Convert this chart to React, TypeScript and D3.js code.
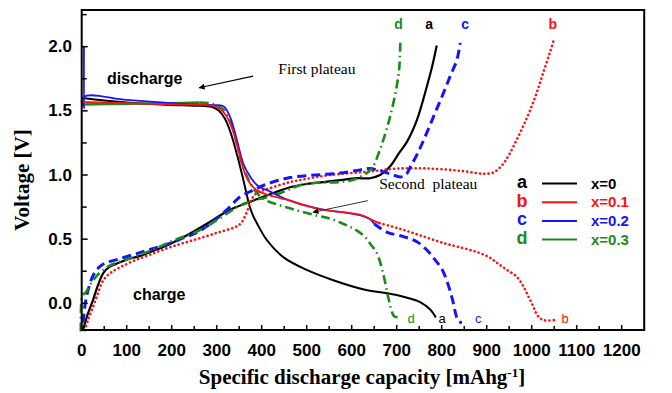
import React from "react";
import * as d3 from "d3";

// Capacity (mAh/g) and voltage (V) pairs for each electrode, x = 0 … 0.3
const aDischarge: [number, number][] = [
  [0, 1.6], [50, 1.58], [100, 1.565], [150, 1.555], [200, 1.545], [250, 1.54], [290, 1.53],
  [305, 1.5], [318, 1.44], [328, 1.36], [338, 1.25], [348, 1.12], [358, 0.98], [366, 0.86],
  [372, 0.77], [380, 0.69], [390, 0.62], [412, 0.49], [448, 0.36], [500, 0.26], [559, 0.18],
  [625, 0.11], [700, 0.065], [752, 0.01], [775, -0.05], [787, -0.11],
];
const aCharge: [number, number][] = [
  [3, -0.21], [12, -0.1], [25, 0.025], [36, 0.14], [48, 0.235], [60, 0.28], [78, 0.31],
  [100, 0.34], [130, 0.37], [160, 0.41], [189, 0.45], [234, 0.53], [278, 0.62], [310, 0.69],
  [337, 0.74], [381, 0.8], [426, 0.86], [463, 0.905], [500, 0.93], [537, 0.945], [575, 0.96],
  [611, 0.975], [641, 0.975], [663, 1.0], [686, 1.07], [705, 1.17], [723, 1.26], [745, 1.43],
  [767, 1.69], [779, 1.85], [789, 2.01],
];

const bDischargeHead: [number, number][] = [
  [-2, 1.57], [100, 1.56], [200, 1.55], [280, 1.545], [300, 1.53], [315, 1.49], [328, 1.42],
  [340, 1.3], [350, 1.17], [362, 1.02], [375, 0.93], [390, 0.88], [410, 0.85], [440, 0.82],
  [463, 0.8], [500, 0.76], [536, 0.73], [580, 0.71], [620, 0.69], [648, 0.645], [662, 0.625],
];
const bDischargeTail: [number, number][] = [
  [662, 0.625], [708, 0.58], [752, 0.53], [804, 0.47], [848, 0.43], [878, 0.4], [905, 0.36],
  [925, 0.31], [945, 0.26], [966, 0.21], [982, 0.13], [993, 0.05], [1003, -0.02],
  [1012, -0.09], [1025, -0.13], [1052, -0.13],
];
const bCharge: [number, number][] = [
  [7, -0.21], [15, -0.12], [25, -0.03], [36, 0.08], [48, 0.18], [65, 0.24], [85, 0.28],
  [115, 0.33], [152, 0.38], [190, 0.43], [226, 0.47], [265, 0.51], [301, 0.55], [330, 0.58],
  [345, 0.6], [355, 0.63], [363, 0.68], [370, 0.74], [376, 0.8], [389, 0.86], [412, 0.89],
  [463, 0.945], [500, 0.97], [552, 1.0], [648, 1.03], [700, 1.05], [774, 1.05], [848, 1.03],
  [892, 1.01], [915, 1.02], [935, 1.08], [950, 1.16], [966, 1.27], [981, 1.38], [996, 1.5],
  [1011, 1.64], [1025, 1.79], [1040, 1.95], [1048, 2.04],
];

const cDischargeHead: [number, number][] = [
  [5, 2.0], [5, 1.52], [6, 1.61], [100, 1.585], [200, 1.56], [250, 1.55], [292, 1.545],
  [315, 1.535], [330, 1.45], [345, 1.27], [359, 1.09], [374, 0.99], [390, 0.92], [419, 0.87],
  [463, 0.8], [536, 0.73], [580, 0.71], [620, 0.685], [641, 0.655], [650, 0.62],
];
const cDischargeTail: [number, number][] = [
  [650, 0.62], [678, 0.555], [715, 0.52], [745, 0.48], [767, 0.415], [785, 0.34], [800, 0.27],
  [812, 0.17], [820, 0.08], [826, 0.0], [831, -0.08], [837, -0.14], [845, -0.15],
];
const cCharge: [number, number][] = [
  [3, -0.15], [8, 0.0], [14, 0.1], [22, 0.19], [33, 0.26], [50, 0.31], [78, 0.34],
  [115, 0.38], [152, 0.42], [190, 0.46], [226, 0.51], [255, 0.55], [278, 0.6], [300, 0.66],
  [323, 0.73], [352, 0.83], [380, 0.88], [412, 0.93], [463, 0.98], [520, 1.0], [574, 1.015],
  [619, 1.04], [641, 1.05], [665, 1.03], [685, 1.01], [708, 0.985], [720, 1.0], [730, 1.06],
  [748, 1.18], [767, 1.33], [786, 1.49], [804, 1.64], [820, 1.78], [834, 1.9], [841, 2.03],
];

const dDischargeHead: [number, number][] = [
  [0, 1.55], [100, 1.555], [200, 1.56], [262, 1.565],
];
const dDischargeTail: [number, number][] = [
  [262, 1.565], [285, 1.56], [300, 1.54], [315, 1.51], [326, 1.44], [337, 1.35], [352, 1.14],
  [367, 0.99], [389, 0.86], [411, 0.8], [435, 0.77], [463, 0.74], [515, 0.69], [552, 0.66],
  [581, 0.62], [605, 0.58], [626, 0.53], [642, 0.46], [656, 0.39], [670, 0.23], [681, 0.05],
  [688, -0.05], [694, -0.1], [708, -0.11],
];
const dCharge: [number, number][] = [
  [-2, -0.22], [-1, 0.0], [2, 0.06], [10, 0.09], [20, 0.15], [35, 0.22], [60, 0.29],
  [115, 0.36], [160, 0.42], [204, 0.49], [263, 0.57], [323, 0.7], [350, 0.76], [381, 0.8],
  [426, 0.84], [463, 0.89], [485, 0.92], [522, 0.94], [574, 0.945], [600, 0.96], [619, 0.985],
  [635, 1.02], [648, 1.07], [660, 1.17], [670, 1.27], [685, 1.45], [700, 1.69], [706, 1.85],
  [708, 2.03],
];

// Legend and curve-end letters
const seriesKeys = ["a", "b", "c", "d"];
const seriesLabels = ["x=0", "x=0.1", "x=0.2", "x=0.3"];
const topLetterCapacity = [772, 1047, 852, 704];
const bottomLetterCapacity = [801, 1074, 881, 732];

// Axis ticks
const capacityTicks = d3.range(0, 1201, 100);
const capacityMinorTicks = d3.range(50, 1250, 100);
const voltageTicks = [0, 0.5, 1.0, 1.5, 2.0];
const voltageMinorTicks = [0.25, 0.75, 1.25, 1.75, 2.25];

const COLORS = ["#000000", "#ff1010", "#1414ff", "#1a8a1a"];
const SANS = "'Liberation Sans', Arial, sans-serif";
const SERIF = "'Liberation Serif', 'Times New Roman', serif";

const W = 672;
const H = 393;

export default function App() {
  const x = d3.scaleLinear().domain([0, 1250]).range([81.7, 644.2]);
  const y = d3.scaleLinear().domain([-0.208, 2.286]).range([330, 10]);
  const line = d3
    .line<[number, number]>()
    .x((d) => x(d[0]))
    .y((d) => y(d[1]))
    .curve(d3.curveCatmullRom.alpha(0.5));

  const solid = { dash: undefined as string | undefined, cap: "butt" };
  const styles = {
    solid,
    dotted: { dash: "0.1 4.2", cap: "round" },
    dashed: { dash: "9 5", cap: "butt" },
    dashdot: { dash: "9 4 1.5 4", cap: "butt" },
  };

  const curves = [
    { pts: aDischarge, color: COLORS[0], st: styles.solid, w: 2 },
    { pts: aCharge, color: COLORS[0], st: styles.solid, w: 2.2 },
    { pts: bCharge, color: COLORS[1], st: styles.dotted, w: 2.6 },
    { pts: cCharge, color: COLORS[2], st: styles.dashed, w: 3 },
    { pts: dCharge, color: COLORS[3], st: styles.dashdot, w: 2.6 },
    { pts: dDischargeHead, color: COLORS[3], st: styles.solid, w: 2.4 },
    { pts: dDischargeTail, color: COLORS[3], st: styles.dashdot, w: 2.6 },
    { pts: cDischargeHead, color: COLORS[2], st: styles.solid, w: 1.8 },
    { pts: cDischargeTail, color: COLORS[2], st: styles.dashed, w: 3 },
    { pts: bDischargeHead, color: COLORS[1], st: styles.solid, w: 1.8 },
    { pts: bDischargeTail, color: COLORS[1], st: styles.dotted, w: 2.6 },
  ];

  const x0 = x.range()[0];
  const x1 = x.range()[1];
  const yBottom = y.range()[0];
  const yTop = y.range()[1];

  const legendX = 522;
  const legendY0 = 182;
  const legendStep = 18.7;

  return (
    <svg
      width={W}
      height={H}
      viewBox={`0 0 ${W} ${H}`}
      style={{ position: "absolute", left: 0, top: 0, background: "#fff" }}
    >
      <defs>
        <marker id="arrowHead" viewBox="0 0 10 10" refX="9" refY="5" markerWidth="7" markerHeight="6" orient="auto-start-reverse" markerUnits="userSpaceOnUse">
          <path d="M0,0 L10,5 L0,10 z" fill="#000" />
        </marker>
      </defs>

      {/* curves */}
      <g fill="none">
        {curves.map((c, i) => (
          <path
            key={i}
            d={line(c.pts) ?? ""}
            stroke={c.color}
            strokeWidth={c.w}
            strokeDasharray={c.st.dash}
            strokeLinecap={c.st.cap as any}
            strokeLinejoin="round"
          />
        ))}
      </g>

      {/* frame */}
      <rect x={x0} y={yTop} width={x1 - x0} height={yBottom - yTop} fill="none" stroke="#000" strokeWidth={2} />

      {/* x ticks */}
      <g stroke="#000" strokeWidth={1.5}>
        {capacityTicks.map((t) => (
          <line key={"xm" + t} x1={x(t)} x2={x(t)} y1={yBottom} y2={yBottom - 5} />
        ))}
        {capacityMinorTicks.map((t) => (
          <line key={"xn" + t} x1={x(t)} x2={x(t)} y1={yBottom} y2={yBottom - 4} />
        ))}
        {voltageTicks.map((t) => (
          <line key={"ym" + t} x1={x0} x2={x0 + 6} y1={y(t)} y2={y(t)} />
        ))}
        {voltageMinorTicks.map((t) => (
          <line key={"yn" + t} x1={x0} x2={x0 + 5} y1={y(t)} y2={y(t)} />
        ))}
      </g>

      {/* tick labels */}
      <g fontFamily={SANS} fontWeight="bold" fontSize={17} fill="#000">
        {capacityTicks.map((t) => (
          <text key={"xl" + t} x={x(t)} y={356} textAnchor="middle">
            {t}
          </text>
        ))}
        {voltageTicks.map((t) => (
          <text key={"yl" + t} x={72} y={y(t)} textAnchor="end" dominantBaseline="central">
            {t.toFixed(1)}
          </text>
        ))}
      </g>

      {/* axis titles */}
      <text x={362} y={384} textAnchor="middle" fontFamily={SERIF} fontWeight="bold" fontSize={21}>
        Specific discharge capacity [mAhg
        <tspan dy={-7} fontSize={13}>-1</tspan>
        <tspan dy={7}>]</tspan>
      </text>
      <text
        transform={`translate(22,180) rotate(-90)`}
        textAnchor="middle"
        dominantBaseline="central"
        fontFamily={SERIF}
        fontWeight="bold"
        fontSize={21}
      >
        Voltage [V]
      </text>

      {/* annotations */}
      <g fontFamily={SANS} fontWeight="bold" fontSize={16}>
        <text x={x(56)} y={y(1.75)} dominantBaseline="central">discharge</text>
        <text x={x(114)} y={y(0.065)} dominantBaseline="central">charge</text>
      </g>
      <g fontFamily={SERIF} fontSize={15.5}>
        <text x={x(437)} y={y(1.83)} dominantBaseline="central">First plateau</text>
        <text x={x(661)} y={y(0.93)} dominantBaseline="central" style={{ whiteSpace: "pre" }}>
          Second  plateau
        </text>
      </g>
      <line x1={x(381)} y1={y(1.77)} x2={x(261)} y2={y(1.68)} stroke="#000" strokeWidth={1.2} markerEnd="url(#arrowHead)" />
      <line x1={x(636)} y1={y(0.8)} x2={x(514)} y2={y(0.71)} stroke="#333" strokeWidth={1} markerEnd="url(#arrowHead)" />

      {/* curve-end letters */}
      <g fontFamily={SANS} fontWeight="bold" fontSize={14} textAnchor="middle">
        {seriesKeys.map((k, i) => (
          <text key={"t" + k} x={x(topLetterCapacity[i])} y={y(2.18)} dominantBaseline="central" fill={COLORS[i]}>
            {k}
          </text>
        ))}
      </g>
      <g fontFamily={SANS} fontSize={13} textAnchor="middle">
        {seriesKeys.map((k, i) => (
          <text key={"b" + k} x={x(bottomLetterCapacity[i])} y={y(-0.115)} dominantBaseline="central" fill={COLORS[i]}>
            {k}
          </text>
        ))}
      </g>

      {/* legend */}
      <g fontFamily={SANS} fontWeight="bold">
        {seriesKeys.map((k, i) => {
          const yy = legendY0 + i * legendStep;
          return (
            <g key={"lg" + k}>
              <text x={legendX} y={yy} textAnchor="middle" dominantBaseline="central" fontSize={18} fill={COLORS[i]}>
                {k}
              </text>
              <line x1={542} x2={577} y1={yy + 1.5} y2={yy + 1.5} stroke={COLORS[i]} strokeWidth={2} />
              <text x={591} y={yy + 1} dominantBaseline="central" fontSize={15} fill={COLORS[i]}>
                {seriesLabels[i]}
              </text>
            </g>
          );
        })}
      </g>
    </svg>
  );
}
